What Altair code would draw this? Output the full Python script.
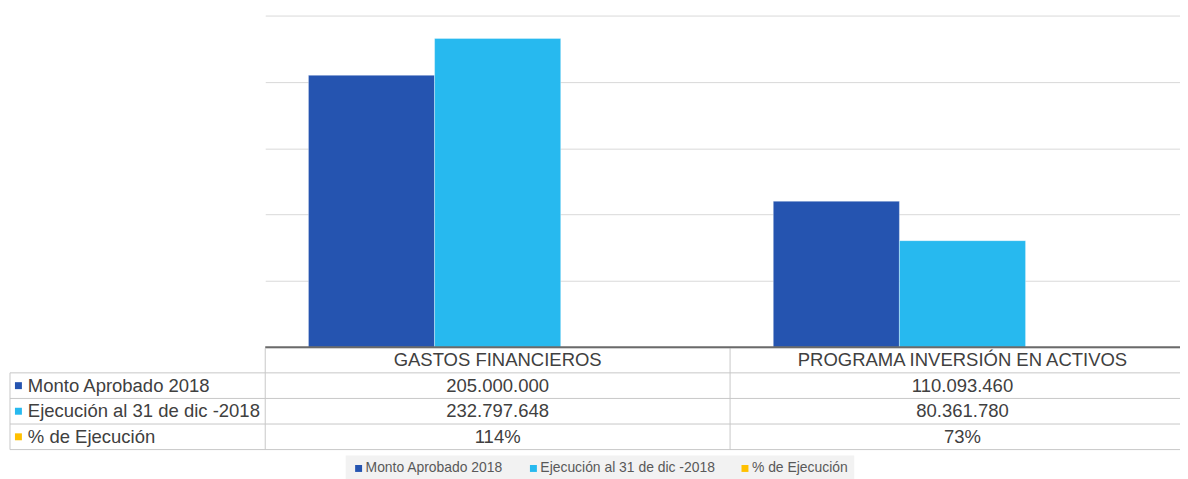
import altair as alt
import pandas as pd

# ---------------- data ----------------
categories = ["GASTOS FINANCIEROS", "PROGRAMA INVERSIÓN EN ACTIVOS"]
series = ["Monto Aprobado 2018", "Ejecución al 31 de dic -2018", "% de Ejecución"]
monto_aprobado = [205000000, 110093460]
ejecucion = [232797648, 80361780]
pct_ejecucion = [1.14, 0.73]  # fraction
colors = ["#2554b0", "#27b9ef", "#ffc000"]
grid_values = [0, 50000000, 100000000, 150000000, 200000000, 250000000]

values_by_series = [monto_aprobado, ejecucion, pct_ejecucion]


def fmt_num(v):
    return f"{v:,.0f}".replace(",", ".")


def fmt_pct(v):
    return f"{round(v * 100)}%"


bars_rows = []
cell_rows = []
for s, vals in zip(series, values_by_series):
    for c, v in zip(categories, vals):
        bars_rows.append({"cat": c, "series": s, "value": v})
        txt = fmt_pct(v) if s == "% de Ejecución" else fmt_num(v)
        cell_rows.append({"cat": c, "row": s, "txt": txt})
df_bars = pd.DataFrame(bars_rows)
df_cells = pd.DataFrame(cell_rows)

HEADER = "Categoría"
rows = [HEADER] + series
df_header = pd.DataFrame({"cat": categories, "row": [HEADER] * len(categories), "txt": categories})
df_labels = pd.DataFrame({"row": series, "series": series})
df_hlines = pd.DataFrame({"row": rows})
df_vlines = pd.DataFrame({"cat": categories})

# ---------------- layout ----------------
FULL_W = 936        # width of the two category bands (right part is cut off)
PLOT_H = 334
TABLE_TOP = 334
TABLE_BOTTOM = 437
LABEL_LEFT = -257
FONT = "Liberation Sans"
TXT_COLOR = "#404040"
LINE_COLOR = "#c8c8c8"

xs = alt.Scale(domain=categories, paddingInner=0, paddingOuter=0)
yt = alt.Scale(domain=rows, range=[TABLE_TOP, TABLE_BOTTOM], paddingInner=0, paddingOuter=0)
cscale = alt.Scale(domain=series, range=colors)

legend = alt.Legend(
    orient="none", legendX=81, legendY=443, direction="horizontal", title=None,
    symbolType="square", symbolSize=49, symbolStrokeWidth=0,
    labelFontSize=14, labelFont=FONT, labelColor="#595959", labelLimit=0,
    columnPadding=23, labelOffset=0, fillColor="#f2f2f2", padding=6,
)
color_enc = alt.Color("series:N", scale=cscale, legend=legend)

bars = alt.Chart(df_bars).mark_bar(stroke="white", strokeOpacity=0.35, strokeWidth=1).encode(
    x=alt.X("cat:N", scale=xs, axis=None, sort=categories),
    xOffset=alt.XOffset("series:N", scale=alt.Scale(domain=series, paddingInner=0, paddingOuter=0.3425)),
    y=alt.Y("value:Q", scale=alt.Scale(domain=[0, 250000000], nice=False),
            axis=alt.Axis(values=grid_values, grid=True, gridColor="#d9d9d9", gridWidth=1,
                          labels=False, ticks=False, domain=False, title=None)),
    color=color_enc,
)

baseline = alt.Chart(pd.DataFrame({"a": [0]})).mark_rule(color="#6a6a6a", strokeWidth=2).encode(
    x=alt.value(0), x2=alt.value(FULL_W), y=alt.value(TABLE_TOP),
)

hlines = alt.Chart(df_hlines).mark_rule(color=LINE_COLOR, strokeWidth=1).encode(
    y=alt.Y("row:N", scale=yt, axis=None, bandPosition=1),
    x=alt.value(LABEL_LEFT), x2=alt.value(FULL_W),
)

vlines = alt.Chart(df_vlines).mark_rule(color=LINE_COLOR, strokeWidth=1).encode(
    x=alt.X("cat:N", scale=xs, axis=None, bandPosition=0),
    y=alt.value(TABLE_TOP + 1), y2=alt.value(TABLE_BOTTOM),
)

left_line = alt.Chart(pd.DataFrame({"a": [0]})).mark_rule(color=LINE_COLOR, strokeWidth=1).encode(
    x=alt.value(LABEL_LEFT), y=alt.value(TABLE_TOP + (TABLE_BOTTOM - TABLE_TOP) / 4), y2=alt.value(TABLE_BOTTOM),
)

header = alt.Chart(df_header).mark_text(font=FONT, fontSize=18.6, color=TXT_COLOR, baseline="middle").encode(
    x=alt.X("cat:N", scale=xs, axis=None),
    y=alt.Y("row:N", scale=yt, axis=None),
    text="txt:N",
)

cells = alt.Chart(df_cells).mark_text(font=FONT, fontSize=18.6, color=TXT_COLOR, baseline="middle").encode(
    x=alt.X("cat:N", scale=xs, axis=None),
    y=alt.Y("row:N", scale=yt, axis=None),
    text="txt:N",
)

row_labels = alt.Chart(df_labels).mark_text(font=FONT, fontSize=18.6, color=TXT_COLOR, align="left",
                                            baseline="middle").encode(
    x=alt.value(-239),
    y=alt.Y("row:N", scale=yt, axis=None),
    text="row:N",
)

markers = alt.Chart(df_labels).mark_square(size=49, opacity=1, strokeWidth=0).encode(
    x=alt.value(-248.5),
    y=alt.Y("row:N", scale=yt, axis=None),
    color=color_enc,
)

chart = alt.layer(
    bars, hlines, vlines, left_line, baseline, header, cells, row_labels, markers
).resolve_scale(y="independent").properties(
    width=FULL_W, height=PLOT_H,
    autosize=alt.AutoSizeParams(type="none"),
    padding={"left": 259, "top": 6, "right": -15, "bottom": 131},
    background="white",
).configure_view(stroke=None)

chart.save("out.html", embed_options={"renderer": "svg", "actions": False})
